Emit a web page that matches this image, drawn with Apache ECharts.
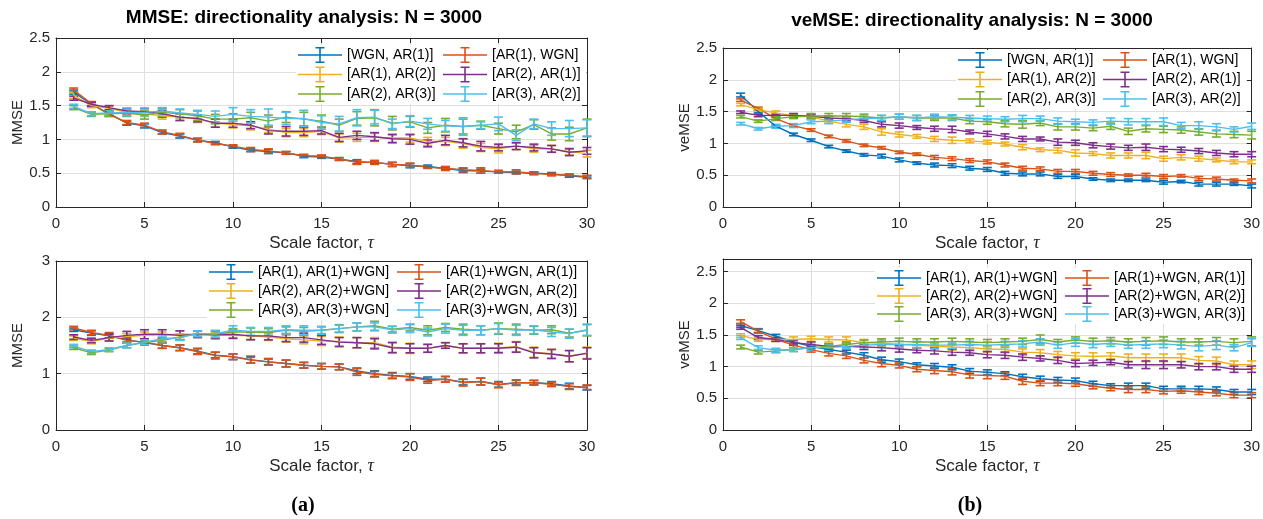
<!DOCTYPE html>
<html>
<head>
<meta charset="utf-8">
<title>MMSE / veMSE directionality analysis</title>
<script src="https://cdn.jsdelivr.net/npm/echarts@6/dist/echarts.min.js"></script>
<style>
html, body { margin: 0; padding: 0; background: #fff; }
#main { width: 1263px; height: 519px; }
</style>
</head>
<body>
<div id="main"></div>
<script>
// scale factor
var tau = [1,2,3,4,5,6,7,8,9,10,11,12,13,14,15,16,17,18,19,20,21,22,23,24,25,26,27,28,29,30];

var namesTop = ['[WGN, AR(1)]', '[AR(1), WGN]', '[AR(1), AR(2)]', '[AR(2), AR(1)]', '[AR(2), AR(3)]', '[AR(3), AR(2)]'];
var namesBottom = ['[AR(1), AR(1)+WGN]', '[AR(1)+WGN, AR(1)]', '[AR(2), AR(2)+WGN]', '[AR(2)+WGN, AR(2)]', '[AR(3), AR(3)+WGN]', '[AR(3)+WGN, AR(3)]'];
var colors = ['#0072BD', '#D95319', '#EDB120', '#7E2F8E', '#77AC30', '#4DBEEE'];

// (a) top: MMSE
var mmseTop1 = [1.70,1.52,1.38,1.24,1.20,1.10,1.05,0.99,0.95,0.89,0.84,0.82,0.80,0.75,0.74,0.71,0.67,0.66,0.63,0.61,0.60,0.57,0.54,0.53,0.52,0.51,0.50,0.49,0.46,0.44];
var mmseTop2 = [1.73,1.53,1.37,1.25,1.21,1.11,1.06,0.99,0.94,0.90,0.85,0.83,0.80,0.76,0.75,0.71,0.66,0.66,0.63,0.62,0.59,0.57,0.55,0.54,0.52,0.52,0.50,0.48,0.47,0.45];
var mmseTop3 = [1.65,1.50,1.46,1.40,1.38,1.35,1.33,1.30,1.24,1.22,1.20,1.15,1.10,1.10,1.12,1.02,1.03,1.03,1.02,1.02,0.97,0.97,0.94,0.88,0.86,0.90,0.86,0.86,0.82,0.79];
var mmseTop4 = [1.61,1.52,1.47,1.42,1.41,1.38,1.33,1.31,1.24,1.24,1.21,1.13,1.12,1.12,1.13,1.03,1.06,1.04,1.01,1.00,0.94,0.99,0.95,0.90,0.88,0.90,0.88,0.86,0.81,0.83];
var mmseTop5 = [1.47,1.37,1.38,1.39,1.36,1.40,1.38,1.35,1.30,1.30,1.32,1.27,1.33,1.30,1.27,1.21,1.31,1.32,1.24,1.26,1.17,1.21,1.19,1.21,1.16,1.11,1.22,1.08,1.08,1.17];
var mmseTop6 = [1.49,1.38,1.39,1.40,1.40,1.42,1.39,1.37,1.34,1.37,1.34,1.33,1.31,1.31,1.25,1.23,1.32,1.33,1.23,1.27,1.23,1.20,1.19,1.21,1.23,1.06,1.23,1.16,1.16,1.17];
var mmseTopErr1 = [0.03,0.03,0.03,0.03,0.03,0.02,0.03,0.02,0.02,0.02,0.02,0.03,0.02,0.02,0.02,0.02,0.03,0.02,0.03,0.03,0.02,0.02,0.03,0.03,0.02,0.02,0.02,0.02,0.02,0.02];
var mmseTopErr2 = [0.03,0.03,0.03,0.03,0.03,0.03,0.03,0.03,0.02,0.02,0.03,0.03,0.02,0.02,0.02,0.02,0.03,0.03,0.03,0.03,0.02,0.03,0.03,0.04,0.02,0.03,0.02,0.02,0.02,0.02];
var mmseTopErr3 = [0.04,0.03,0.03,0.04,0.04,0.05,0.05,0.05,0.06,0.05,0.06,0.05,0.06,0.06,0.05,0.06,0.06,0.06,0.06,0.06,0.06,0.06,0.07,0.06,0.06,0.05,0.05,0.05,0.05,0.05];
var mmseTopErr4 = [0.03,0.03,0.03,0.04,0.05,0.05,0.05,0.05,0.06,0.06,0.05,0.05,0.07,0.06,0.05,0.06,0.06,0.06,0.06,0.07,0.05,0.07,0.06,0.07,0.05,0.05,0.05,0.05,0.05,0.05];
var mmseTopErr5 = [0.03,0.03,0.04,0.05,0.06,0.06,0.06,0.07,0.07,0.08,0.08,0.09,0.08,0.10,0.09,0.09,0.10,0.12,0.10,0.08,0.08,0.10,0.11,0.06,0.08,0.10,0.07,0.09,0.10,0.13];
var mmseTopErr6 = [0.03,0.03,0.03,0.05,0.05,0.05,0.06,0.06,0.08,0.10,0.10,0.12,0.09,0.12,0.10,0.11,0.12,0.10,0.07,0.08,0.08,0.08,0.13,0.05,0.10,0.08,0.07,0.10,0.12,0.12];

// (a) bottom: MMSE with added noise
var mmseBot1 = [1.78,1.72,1.67,1.60,1.55,1.50,1.46,1.40,1.33,1.30,1.25,1.21,1.18,1.15,1.13,1.12,1.05,1.00,0.97,0.95,0.90,0.90,0.85,0.86,0.81,0.84,0.84,0.82,0.78,0.75];
var mmseBot2 = [1.81,1.73,1.68,1.59,1.56,1.50,1.46,1.39,1.32,1.30,1.24,1.21,1.18,1.15,1.13,1.12,1.03,0.99,0.96,0.94,0.88,0.90,0.84,0.86,0.80,0.84,0.84,0.81,0.77,0.76];
var mmseBot3 = [1.63,1.57,1.63,1.66,1.68,1.69,1.70,1.70,1.68,1.68,1.67,1.65,1.62,1.60,1.58,1.57,1.55,1.55,1.47,1.45,1.45,1.50,1.45,1.45,1.46,1.48,1.38,1.35,1.31,1.37];
var mmseBot4 = [1.65,1.59,1.64,1.68,1.70,1.70,1.68,1.70,1.69,1.70,1.67,1.67,1.64,1.64,1.60,1.56,1.55,1.53,1.46,1.45,1.45,1.50,1.45,1.45,1.45,1.47,1.37,1.35,1.31,1.36];
var mmseBot5 = [1.46,1.37,1.42,1.50,1.55,1.59,1.65,1.71,1.70,1.74,1.74,1.73,1.77,1.75,1.77,1.80,1.83,1.85,1.79,1.82,1.77,1.82,1.79,1.77,1.80,1.79,1.77,1.78,1.72,1.77];
var mmseBot6 = [1.49,1.39,1.43,1.50,1.56,1.62,1.64,1.71,1.71,1.77,1.75,1.75,1.78,1.77,1.77,1.80,1.83,1.83,1.78,1.80,1.74,1.80,1.77,1.77,1.80,1.77,1.78,1.74,1.71,1.78];
var mmseBotErr1 = [0.03,0.04,0.04,0.04,0.04,0.05,0.05,0.05,0.05,0.05,0.06,0.05,0.06,0.05,0.05,0.05,0.05,0.05,0.05,0.05,0.04,0.05,0.05,0.06,0.05,0.04,0.04,0.04,0.05,0.04];
var mmseBotErr2 = [0.03,0.04,0.05,0.04,0.04,0.05,0.05,0.05,0.06,0.05,0.05,0.06,0.06,0.05,0.05,0.05,0.06,0.05,0.05,0.06,0.05,0.05,0.06,0.06,0.05,0.05,0.04,0.04,0.05,0.04];
var mmseBotErr3 = [0.04,0.04,0.05,0.05,0.06,0.05,0.06,0.05,0.05,0.06,0.06,0.06,0.06,0.07,0.08,0.08,0.09,0.09,0.09,0.09,0.07,0.05,0.08,0.08,0.08,0.09,0.09,0.08,0.10,0.10];
var mmseBotErr4 = [0.04,0.04,0.06,0.07,0.08,0.08,0.08,0.06,0.07,0.07,0.07,0.07,0.07,0.08,0.08,0.08,0.09,0.09,0.09,0.08,0.07,0.05,0.08,0.08,0.08,0.09,0.09,0.08,0.10,0.10];
var mmseBotErr5 = [0.03,0.03,0.03,0.04,0.04,0.05,0.05,0.05,0.06,0.06,0.07,0.07,0.06,0.07,0.06,0.07,0.07,0.08,0.05,0.06,0.08,0.07,0.09,0.08,0.10,0.09,0.07,0.07,0.07,0.10];
var mmseBotErr6 = [0.03,0.03,0.03,0.04,0.04,0.05,0.05,0.05,0.06,0.08,0.07,0.07,0.07,0.08,0.07,0.06,0.07,0.07,0.06,0.07,0.07,0.08,0.09,0.08,0.09,0.09,0.07,0.08,0.08,0.10];

// (b) top: veMSE
var vemseTop1 = [1.76,1.50,1.27,1.14,1.05,0.95,0.88,0.82,0.80,0.74,0.69,0.66,0.65,0.61,0.59,0.53,0.52,0.52,0.48,0.48,0.44,0.42,0.42,0.42,0.39,0.40,0.36,0.36,0.36,0.33];
var vemseTop2 = [1.68,1.55,1.39,1.28,1.21,1.11,1.04,0.97,0.93,0.86,0.83,0.78,0.76,0.73,0.71,0.66,0.61,0.60,0.56,0.56,0.53,0.51,0.50,0.50,0.48,0.49,0.45,0.44,0.42,0.41];
var vemseTop3 = [1.61,1.53,1.48,1.43,1.42,1.35,1.30,1.26,1.18,1.14,1.11,1.07,1.05,1.04,1.02,0.99,0.94,0.90,0.89,0.85,0.84,0.81,0.81,0.81,0.76,0.78,0.76,0.74,0.71,0.71];
var vemseTop4 = [1.49,1.44,1.44,1.44,1.43,1.40,1.39,1.36,1.30,1.28,1.25,1.23,1.22,1.18,1.15,1.11,1.07,1.07,1.02,1.01,0.97,0.95,0.93,0.94,0.91,0.90,0.88,0.85,0.83,0.83];
var vemseTop5 = [1.42,1.35,1.39,1.42,1.43,1.43,1.43,1.42,1.40,1.42,1.40,1.40,1.40,1.35,1.34,1.31,1.30,1.32,1.26,1.26,1.24,1.27,1.19,1.23,1.22,1.21,1.18,1.15,1.14,1.13];
var vemseTop6 = [1.31,1.23,1.27,1.28,1.34,1.35,1.37,1.39,1.40,1.42,1.40,1.42,1.41,1.40,1.39,1.38,1.39,1.39,1.35,1.34,1.33,1.35,1.34,1.34,1.34,1.28,1.28,1.26,1.22,1.27];
var vemseTopErr1 = [0.03,0.02,0.02,0.02,0.02,0.02,0.02,0.02,0.03,0.03,0.02,0.03,0.03,0.03,0.03,0.03,0.03,0.03,0.03,0.03,0.02,0.02,0.02,0.02,0.03,0.02,0.03,0.03,0.02,0.03];
var vemseTopErr2 = [0.02,0.02,0.02,0.02,0.02,0.02,0.02,0.02,0.02,0.02,0.02,0.03,0.03,0.03,0.03,0.03,0.03,0.03,0.03,0.03,0.03,0.03,0.02,0.03,0.03,0.02,0.03,0.03,0.02,0.03];
var vemseTopErr3 = [0.02,0.02,0.03,0.03,0.03,0.03,0.04,0.04,0.05,0.04,0.03,0.04,0.05,0.03,0.03,0.03,0.04,0.03,0.04,0.05,0.03,0.04,0.04,0.05,0.04,0.04,0.04,0.03,0.03,0.03];
var vemseTopErr4 = [0.02,0.02,0.02,0.03,0.03,0.03,0.03,0.03,0.04,0.04,0.03,0.04,0.05,0.03,0.04,0.04,0.04,0.03,0.05,0.04,0.04,0.04,0.04,0.05,0.04,0.04,0.04,0.04,0.04,0.04];
var vemseTopErr5 = [0.02,0.02,0.03,0.03,0.04,0.04,0.04,0.04,0.04,0.04,0.04,0.04,0.04,0.04,0.04,0.05,0.06,0.04,0.05,0.05,0.04,0.05,0.05,0.05,0.05,0.05,0.05,0.05,0.05,0.06];
var vemseTopErr6 = [0.02,0.02,0.03,0.03,0.03,0.04,0.04,0.04,0.04,0.04,0.04,0.04,0.04,0.04,0.04,0.04,0.05,0.04,0.05,0.04,0.04,0.05,0.05,0.05,0.06,0.05,0.06,0.05,0.04,0.05];

// (b) bottom: veMSE with added noise
var vemseBot1 = [1.65,1.57,1.48,1.39,1.32,1.27,1.23,1.18,1.11,1.08,1.03,1.01,0.99,0.93,0.91,0.89,0.84,0.81,0.79,0.78,0.73,0.70,0.70,0.70,0.65,0.65,0.65,0.64,0.60,0.60];
var vemseBot2 = [1.71,1.56,1.43,1.34,1.27,1.21,1.17,1.10,1.05,1.02,0.96,0.94,0.92,0.87,0.86,0.85,0.77,0.74,0.74,0.73,0.69,0.66,0.64,0.64,0.61,0.62,0.60,0.58,0.55,0.55];
var vemseBot3 = [1.49,1.43,1.43,1.43,1.44,1.43,1.42,1.38,1.37,1.35,1.34,1.32,1.31,1.30,1.28,1.27,1.23,1.22,1.19,1.17,1.16,1.17,1.14,1.14,1.14,1.14,1.10,1.09,1.03,1.03];
var vemseBot4 = [1.62,1.46,1.43,1.38,1.35,1.32,1.32,1.31,1.30,1.28,1.26,1.25,1.23,1.22,1.19,1.18,1.15,1.13,1.10,1.05,1.06,1.07,1.03,1.03,1.03,1.03,1.00,1.00,0.96,0.96];
var vemseBot5 = [1.31,1.23,1.25,1.27,1.30,1.32,1.35,1.38,1.39,1.40,1.39,1.39,1.40,1.39,1.38,1.39,1.40,1.43,1.39,1.42,1.40,1.41,1.39,1.40,1.41,1.39,1.39,1.40,1.38,1.40];
var vemseBot6 = [1.46,1.30,1.26,1.27,1.30,1.30,1.32,1.34,1.35,1.35,1.35,1.34,1.34,1.35,1.34,1.35,1.36,1.39,1.34,1.38,1.35,1.37,1.34,1.35,1.36,1.34,1.32,1.34,1.30,1.38];
var vemseBotErr1 = [0.03,0.03,0.03,0.03,0.03,0.03,0.03,0.04,0.04,0.04,0.03,0.04,0.04,0.04,0.04,0.03,0.04,0.04,0.04,0.04,0.04,0.03,0.04,0.04,0.04,0.04,0.04,0.04,0.04,0.04];
var vemseBotErr2 = [0.03,0.03,0.03,0.04,0.04,0.04,0.04,0.04,0.05,0.04,0.04,0.05,0.05,0.05,0.05,0.05,0.05,0.04,0.04,0.04,0.04,0.04,0.05,0.05,0.04,0.04,0.04,0.04,0.04,0.04];
var vemseBotErr3 = [0.03,0.03,0.03,0.04,0.04,0.04,0.05,0.05,0.05,0.05,0.05,0.05,0.05,0.05,0.05,0.05,0.05,0.05,0.05,0.05,0.06,0.05,0.06,0.06,0.06,0.06,0.06,0.06,0.06,0.06];
var vemseBotErr4 = [0.03,0.03,0.03,0.04,0.04,0.04,0.05,0.04,0.05,0.05,0.04,0.05,0.05,0.04,0.05,0.05,0.05,0.04,0.05,0.05,0.04,0.04,0.05,0.06,0.06,0.05,0.05,0.05,0.05,0.05];
var vemseBotErr5 = [0.03,0.03,0.03,0.03,0.04,0.04,0.04,0.04,0.05,0.05,0.05,0.05,0.05,0.05,0.05,0.05,0.05,0.07,0.04,0.05,0.05,0.05,0.05,0.06,0.06,0.05,0.05,0.06,0.06,0.07];
var vemseBotErr6 = [0.03,0.03,0.03,0.03,0.04,0.04,0.04,0.04,0.05,0.05,0.05,0.05,0.05,0.05,0.05,0.05,0.05,0.05,0.05,0.06,0.05,0.05,0.05,0.06,0.06,0.06,0.07,0.07,0.05,0.06];

var FONT = "'Liberation Sans', Arial, Helvetica, sans-serif";
var AXIS_COLOR = '#262626';
var GRID_COLOR = '#dfdfdf';
var ICON = 'path://M0 7.3H44V8.7H0Z M21.2 0H22.8V16H21.2Z M17.5 0H26.5V1.5H17.5Z M17.5 14.5H26.5V16H17.5Z';

var panels = [
  { grid: {left: 56, top: 38, width: 531, height: 169}, ymax: 2.5, yint: 0.5, yname: 'MMSE',
    vals: [mmseTop1, mmseTop2, mmseTop3, mmseTop4, mmseTop5, mmseTop6],
    errs: [mmseTopErr1, mmseTopErr2, mmseTopErr3, mmseTopErr4, mmseTopErr5, mmseTopErr6],
    names: namesTop, leg: [296, 441], legTop: 45, legGap: 3.5 },
  { grid: {left: 56, top: 261, width: 531, height: 169}, ymax: 3, yint: 1, yname: 'MMSE',
    vals: [mmseBot1, mmseBot2, mmseBot3, mmseBot4, mmseBot5, mmseBot6],
    errs: [mmseBotErr1, mmseBotErr2, mmseBotErr3, mmseBotErr4, mmseBotErr5, mmseBotErr6],
    names: namesBottom, leg: [207, 395], legTop: 262, legGap: 3 },
  { grid: {left: 723, top: 48, width: 533, height: 159}, ymax: 2.5, yint: 0.5, yname: 'veMSE',
    vals: [vemseTop1, vemseTop2, vemseTop3, vemseTop4, vemseTop5, vemseTop6],
    errs: [vemseTopErr1, vemseTopErr2, vemseTopErr3, vemseTopErr4, vemseTopErr5, vemseTopErr6],
    names: namesTop, leg: [956, 1101], legTop: 50, legGap: 3.5 },
  { grid: {left: 723, top: 259, width: 533, height: 171}, ymax: 2.7, yint: 0.5, yname: 'veMSE',
    vals: [vemseBot1, vemseBot2, vemseBot3, vemseBot4, vemseBot5, vemseBot6],
    errs: [vemseBotErr1, vemseBotErr2, vemseBotErr3, vemseBotErr4, vemseBotErr5, vemseBotErr6],
    names: namesBottom, leg: [875, 1063], legTop: 268, legGap: 2 }
];

function errorBar(params, api) {
  var x = api.value(0), y = api.value(1), e = api.value(2);
  var top = api.coord([x, y + e]);
  var bot = api.coord([x, y - e]);
  var st = {stroke: api.visual('color'), lineWidth: 1.6};
  var hw = 4.5;
  return {
    type: 'group',
    children: [
      {type: 'line', shape: {x1: top[0], y1: top[1], x2: bot[0], y2: bot[1]}, style: st},
      {type: 'line', shape: {x1: top[0] - hw, y1: top[1], x2: top[0] + hw, y2: top[1]}, style: st},
      {type: 'line', shape: {x1: bot[0] - hw, y1: bot[1], x2: bot[0] + hw, y2: bot[1]}, style: st}
    ]
  };
}

var grids = [], xAxes = [], yAxes = [], series = [], legends = [];

panels.forEach(function (p, g) {
  grids.push(p.grid);
  var xi = xAxes.length, yi = yAxes.length;
  // bottom x axis with labels
  xAxes.push({
    type: 'value', gridIndex: g, min: 0, max: 30, interval: 5, position: 'bottom',
    name: 'Scale factor, {t|τ}', nameLocation: 'middle', nameGap: 27,
    nameTextStyle: {fontFamily: FONT, fontSize: 17, color: AXIS_COLOR,
      rich: {t: {fontFamily: "'Liberation Serif', serif", fontStyle: 'italic', fontSize: 18, color: AXIS_COLOR}}},
    axisLine: {show: true, lineStyle: {color: AXIS_COLOR, width: 1}},
    axisTick: {show: true, inside: true, length: 5, lineStyle: {color: AXIS_COLOR}},
    axisLabel: {fontFamily: FONT, fontSize: 15, color: AXIS_COLOR, margin: 9},
    splitLine: {show: true, lineStyle: {color: GRID_COLOR, width: 1}}
  });
  // top mirror
  xAxes.push({
    type: 'value', gridIndex: g, min: 0, max: 30, interval: 5, position: 'top',
    axisLine: {show: true, onZero: false, lineStyle: {color: AXIS_COLOR, width: 1}},
    axisTick: {show: true, inside: true, length: 5, lineStyle: {color: AXIS_COLOR}},
    axisLabel: {show: false}, splitLine: {show: false}
  });
  var yint = p.yint;
  yAxes.push({
    type: 'value', gridIndex: g, min: 0, max: p.ymax, interval: yint, position: 'left',
    name: p.yname, nameLocation: 'middle', nameGap: 31,
    nameTextStyle: {fontFamily: FONT, fontSize: 15, color: AXIS_COLOR},
    axisLine: {show: true, onZero: false, lineStyle: {color: AXIS_COLOR, width: 1}},
    axisTick: {show: true, inside: true, length: 5, lineStyle: {color: AXIS_COLOR}},
    axisLabel: {fontFamily: FONT, fontSize: 15, color: AXIS_COLOR, margin: 6,
      formatter: function (v) {
        var r = v / yint;
        return Math.abs(r - Math.round(r)) < 1e-6 ? String(+v.toFixed(2)) : '';
      }},
    splitLine: {show: true, lineStyle: {color: GRID_COLOR, width: 1}}
  });
  yAxes.push({
    type: 'value', gridIndex: g, min: 0, max: p.ymax, interval: yint, position: 'right',
    axisLine: {show: true, onZero: false, lineStyle: {color: AXIS_COLOR, width: 1}},
    axisTick: {show: true, inside: true, length: 5, lineStyle: {color: AXIS_COLOR}},
    axisLabel: {show: false}, splitLine: {show: false}
  });

  p.vals.forEach(function (v, i) {
    var name = p.names[i];
    series.push({
      type: 'line', name: name, xAxisIndex: xi, yAxisIndex: yi,
      data: tau.map(function (t, k) { return [t, v[k]]; }),
      symbol: 'none', silent: true,
      lineStyle: {color: colors[i], width: 1.4},
      itemStyle: {color: colors[i]}
    });
    series.push({
      type: 'custom', name: name, xAxisIndex: xi, yAxisIndex: yi,
      data: tau.map(function (t, k) { return [t, v[k], p.errs[i][k]]; }),
      encode: {x: 0, y: 1}, renderItem: errorBar, silent: true,
      itemStyle: {color: colors[i]}
    });
  });

  // two legend columns per panel
  [[0, 2, 4], [1, 3, 5]].forEach(function (idx, c) {
    legends.push({
      left: p.leg[c], top: p.legTop, orient: 'vertical',
      itemWidth: 44, itemHeight: 16, itemGap: p.legGap,
      padding: [2, c === 0 ? 10 : 6, 2, 2],
      backgroundColor: '#ffffff', selectedMode: false,
      itemStyle: {borderWidth: 0},
      textStyle: {fontFamily: FONT, fontSize: 14, color: '#000'},
      data: idx.map(function (i) { return {name: p.names[i], icon: ICON}; })
    });
  });
});

var chartDom = document.getElementById('main');
var myChart = echarts.init(chartDom);
var option = {
  animation: false,
  backgroundColor: '#ffffff',
  grid: grids,
  xAxis: xAxes,
  yAxis: yAxes,
  legend: legends,
  series: series,
  graphic: [
    {type: 'text', x: 304, y: 18, style: {text: 'MMSE: directionality analysis: N = 3000', fontFamily: FONT, fontWeight: 'bold', fontSize: 19, fill: '#000', textAlign: 'center', textVerticalAlign: 'middle'}},
    {type: 'text', x: 972, y: 21, style: {text: 'veMSE: directionality analysis: N = 3000', fontFamily: FONT, fontWeight: 'bold', fontSize: 19, fill: '#000', textAlign: 'center', textVerticalAlign: 'middle'}},
    {type: 'text', x: 303, y: 506, style: {text: '(a)', fontFamily: "'Liberation Serif', serif", fontWeight: 'bold', fontSize: 20, fill: '#000', textAlign: 'center', textVerticalAlign: 'middle'}},
    {type: 'text', x: 970, y: 506, style: {text: '(b)', fontFamily: "'Liberation Serif', serif", fontWeight: 'bold', fontSize: 20, fill: '#000', textAlign: 'center', textVerticalAlign: 'middle'}}
  ]
};

option && myChart.setOption(option);
</script>
</body>
</html>
